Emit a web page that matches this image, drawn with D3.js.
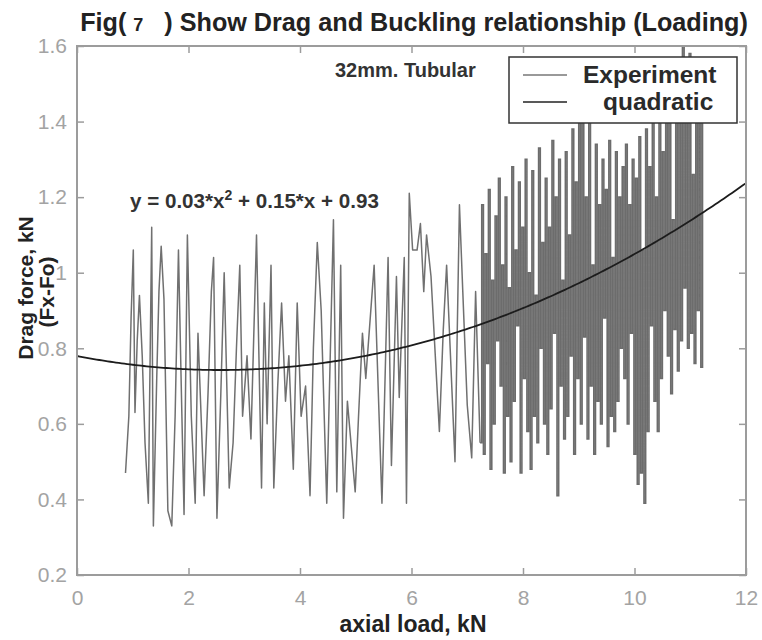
<!DOCTYPE html>
<html>
<head>
<meta charset="utf-8">
<script src="https://cdn.jsdelivr.net/npm/d3@7"></script>
<style>
  body { margin: 0; background: #fff; }
  svg { display: block; }
</style>
</head>
<body>
<svg id="chart" width="762" height="640"></svg>
<script>
// ---- axis ticks ----
const xTicks = [0, 2, 4, 6, 8, 10, 12];
const xTickLabels = ["0", "2", "4", "6", "8", "10", "12"];
const yTicks = [0.2, 0.4, 0.6, 0.8, 1.0, 1.2, 1.4, 1.6];
const yTickLabels = ["0.2", "0.4", "0.6", "0.8", "1", "1.2", "1.4", "1.6"];

// ---- experiment: low-load part of the run (axial load kN, drag kN) ----
const lowLoadX = [0.87,0.93,0.97,1.01,1.04,1.08,1.12,1.17,1.22,1.28,1.34,1.37,1.43,1.47,1.51,1.56,1.63,1.70,1.76,1.82,
  1.87,1.92,1.98,2.05,2.12,2.17,2.28,2.35,2.41,2.45,2.51,2.58,2.64,2.73,2.80,2.86,2.92,2.97,3.05,3.12,
  3.22,3.31,3.36,3.41,3.48,3.53,3.60,3.67,3.74,3.80,3.88,3.95,4.02,4.10,4.18,4.24,4.31,4.38,4.48,4.60,
  4.66,4.73,4.78,4.85,4.99,5.05,5.12,5.18,5.33,5.47,5.58,5.64,5.73,5.78,5.87,5.91,5.96,6.02,6.10,6.16,
  6.22,6.27,6.35,6.50,6.57,6.63,6.78,6.86,6.92,7.00,7.08,7.15,7.23];
const lowLoadY = [0.47,0.62,0.88,1.06,0.63,0.82,0.94,0.78,0.55,0.39,1.12,0.33,0.72,0.95,1.07,0.93,0.37,0.33,0.62,1.06,
  0.70,0.36,1.10,0.62,0.39,0.84,0.41,0.68,0.95,1.04,0.35,0.68,1.00,0.43,0.55,0.80,1.02,0.62,0.78,0.56,
  1.10,0.43,0.92,0.60,1.02,0.43,0.70,0.92,0.66,0.78,0.48,0.92,0.62,0.70,0.41,0.80,1.08,0.90,0.39,1.14,
  0.42,1.02,0.35,0.66,0.42,0.62,0.84,0.72,1.02,0.39,1.04,0.49,0.99,0.67,1.04,0.39,1.21,1.06,1.06,1.13,
  0.95,1.10,0.99,0.58,0.85,1.02,0.50,1.18,0.95,0.65,0.51,0.95,0.55];

// ---- experiment: high-load part, sampled every 0.03 kN from 7.26 kN ----
const highLoadStart = 7.26;
const highLoadStep = 0.03;
const highLoadY = [
  1.18,0.52,1.05,0.76,1.22,0.48,0.98,0.60,1.15,0.82,
  1.25,0.70,1.02,0.47,1.20,0.62,0.96,0.50,1.28,0.66,
  1.06,0.86,1.24,0.47,1.12,0.72,1.30,0.58,1.00,0.48,
  1.27,0.62,0.94,0.55,1.33,0.80,1.08,0.60,1.25,0.52,
  1.12,0.64,1.35,0.84,1.20,0.41,1.30,0.70,0.98,0.56,
  1.32,0.62,1.10,0.78,1.38,0.52,1.24,0.72,1.42,0.60,
  1.45,0.83,1.20,0.56,1.40,0.70,1.02,0.52,1.34,0.66,
  1.18,0.60,1.30,0.88,1.22,0.54,1.35,0.62,1.04,0.58,
  1.32,0.66,1.20,0.80,1.28,0.72,1.34,0.60,1.18,0.84,
  1.30,0.52,1.25,0.44,1.36,0.47,1.06,0.39,1.38,0.58,
  1.28,0.86,1.42,0.66,1.20,0.58,1.45,0.72,1.32,0.90,
  1.40,0.78,1.48,0.68,1.14,0.85,1.52,0.74,1.44,0.82,
  1.60,0.96,1.44,0.80,1.58,0.84,1.26,0.76,1.50,0.90,
  1.48,0.75,1.40];

// ---- quadratic fit, written in centred & scaled load z = (x - mu) / sigma ----
const fitCoef = [0.03, 0.15, 0.93];
const fitMu = 8.38;
const fitSigma = 2.32;

// ---- layout ----
const svg = d3.select("#chart");
const plot = { left: 77, right: 746, top: 46, bottom: 575 };
const x = d3.scaleLinear().domain([0, 12]).range([plot.left, plot.right]);
const y = d3.scaleLinear().domain([0.2, 1.6]).range([plot.bottom, plot.top]);

const axisColor = "#9c9c9c";
const font = "Arial, 'Liberation Sans', Helvetica, sans-serif";

svg.append("rect").attr("width", 762).attr("height", 640).attr("fill", "#fff");

// experiment trace: zig-zag at low load, quantised staircase at high load
const lowPoints = d3.zip(lowLoadX, lowLoadY);
const highPoints = [lowPoints[lowPoints.length - 1]]
  .concat(highLoadY.map((v, i) => [highLoadStart + i * highLoadStep, v]));

const zigLine = d3.line().x(d => x(d[0])).y(d => y(d[1]));
const stepLine = d3.line().x(d => x(d[0])).y(d => y(d[1])).curve(d3.curveStepAfter);

svg.append("path")
  .datum(lowPoints)
  .attr("fill", "none")
  .attr("stroke", "#707070")
  .attr("stroke-width", 1.5)
  .attr("stroke-linejoin", "round")
  .attr("d", zigLine);

svg.append("path")
  .datum(highPoints)
  .attr("fill", "none")
  .attr("stroke", "#6c6c6c")
  .attr("stroke-width", 1.6)
  .attr("d", stepLine);

// quadratic fit curve
const fitX = d3.range(0, 12.001, 0.05);
const fitLine = d3.line()
  .x(d => x(d))
  .y(d => {
    const z = (d - fitMu) / fitSigma;
    return y(fitCoef[0] * z * z + fitCoef[1] * z + fitCoef[2]);
  });
svg.append("path")
  .datum(fitX)
  .attr("fill", "none")
  .attr("stroke", "#1c1c1c")
  .attr("stroke-width", 1.8)
  .attr("d", fitLine);

// axes: inward ticks on all four sides
function styleAxis(g) {
  g.select(".domain").remove();
  g.selectAll(".tick line").attr("stroke", axisColor).attr("stroke-width", 1.5);
  g.selectAll(".tick text")
    .attr("fill", "#a3a3a3")
    .style("font-family", font)
    .style("font-size", "21px");
}

svg.append("g")
  .attr("transform", `translate(0,${plot.bottom})`)
  .call(d3.axisBottom(x).tickValues(xTicks).tickFormat((d, i) => xTickLabels[i]).tickSize(-7).tickPadding(15))
  .call(styleAxis);
svg.append("g")
  .attr("transform", `translate(0,${plot.top})`)
  .call(d3.axisTop(x).tickValues(xTicks).tickFormat("").tickSize(-7))
  .call(styleAxis);
svg.append("g")
  .attr("transform", `translate(${plot.left},0)`)
  .call(d3.axisLeft(y).tickValues(yTicks).tickFormat((d, i) => yTickLabels[i]).tickSize(-7).tickPadding(10))
  .call(styleAxis);
svg.append("g")
  .attr("transform", `translate(${plot.right},0)`)
  .call(d3.axisRight(y).tickValues(yTicks).tickFormat("").tickSize(-7))
  .call(styleAxis);

svg.append("rect")
  .attr("x", plot.left).attr("y", plot.top)
  .attr("width", plot.right - plot.left).attr("height", plot.bottom - plot.top)
  .attr("fill", "none").attr("stroke", axisColor).attr("stroke-width", 2);

// legend
const legend = svg.append("g");
legend.append("rect")
  .attr("x", 509).attr("y", 57).attr("width", 228).attr("height", 66)
  .attr("fill", "#fff").attr("stroke", "#333").attr("stroke-width", 1.5);
const legendItems = [
  { label: "Experiment", color: "#777", lx: 583, ly: 75, ty: 83 },
  { label: "quadratic", color: "#222", lx: 603, ly: 102, ty: 110 }
];
legendItems.forEach(it => {
  legend.append("line")
    .attr("x1", 523).attr("x2", 567).attr("y1", it.ly).attr("y2", it.ly)
    .attr("stroke", it.color).attr("stroke-width", 1.3);
  legend.append("text")
    .attr("x", it.lx).attr("y", it.ty)
    .style("font-family", font).style("font-size", "24.5px").style("font-weight", "bold")
    .attr("fill", "#2a2a2a")
    .text(it.label);
});

// annotations
svg.append("text")
  .attr("x", 335).attr("y", 77)
  .style("font-family", font).style("font-size", "20px").style("font-weight", "bold")
  .attr("fill", "#333")
  .text("32mm. Tubular");

const eq = svg.append("text")
  .attr("x", 130).attr("y", 208)
  .style("font-family", font).style("font-size", "20.6px").style("font-weight", "bold")
  .attr("fill", "#333");
eq.append("tspan").text("y = 0.03*x");
eq.append("tspan").attr("dy", -8).style("font-size", "14px").text("2");
eq.append("tspan").attr("dy", 8).text(" + 0.15*x + 0.93");

// title and axis labels
const title = svg.append("text")
  .attr("x", 414).attr("y", 31)
  .attr("text-anchor", "middle")
  .style("white-space", "pre")
  .style("font-family", font).style("font-size", "25.2px").style("font-weight", "bold")
  .attr("fill", "#222");
title.append("tspan").text("Fig( ");
title.append("tspan").style("font-size", "18px").text("7");
title.append("tspan").text("   ) Show Drag and Buckling relationship (Loading)");

svg.append("text")
  .attr("x", 413).attr("y", 632)
  .attr("text-anchor", "middle")
  .style("font-family", font).style("font-size", "23px").style("font-weight", "bold")
  .attr("fill", "#222")
  .text("axial load, kN");

svg.append("text")
  .attr("transform", "translate(33,288) rotate(-90)")
  .attr("text-anchor", "middle")
  .style("font-family", font).style("font-size", "21px").style("font-weight", "bold")
  .attr("fill", "#222")
  .text("Drag force, kN");
svg.append("text")
  .attr("transform", "translate(54,292) rotate(-90)")
  .attr("text-anchor", "middle")
  .style("font-family", font).style("font-size", "21px").style("font-weight", "bold")
  .attr("fill", "#222")
  .text("(Fx-Fo)");
</script>
</body>
</html>
